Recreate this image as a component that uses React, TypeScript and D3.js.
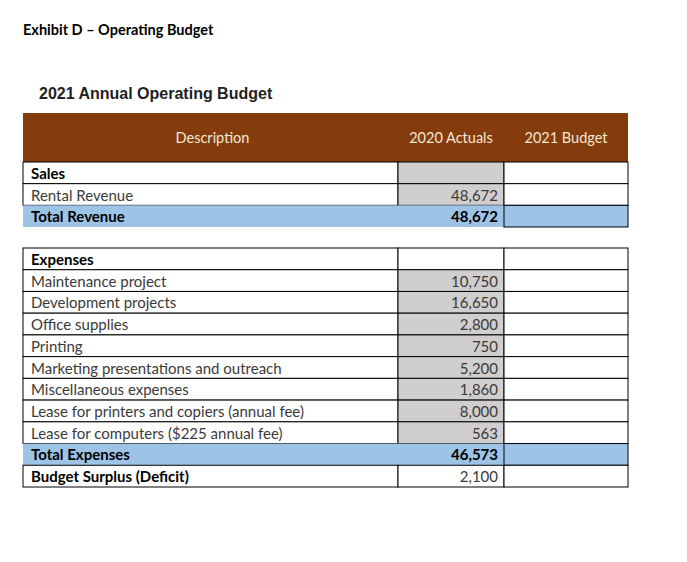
import React from "react";
import * as d3 from "d3";

const exhibitTitle = "Exhibit D – Operating Budget";
const tableTitle = "2021 Annual Operating Budget";
const headers = ["Description", "2020 Actuals", "2021 Budget"];

// Revenue block
const revenueLabels = ["Sales", "Rental Revenue", "Total Revenue"];
const revenueActuals: (number | null)[] = [null, 48672, 48672];
const revenueKinds = ["section", "item", "total"];

// Expense block
const expenseLabels = [
  "Expenses",
  "Maintenance project",
  "Development projects",
  "Office supplies",
  "Printing",
  "Marketing presentations and outreach",
  "Miscellaneous expenses",
  "Lease for printers and copiers (annual fee)",
  "Lease for computers ($225 annual fee)",
  "Total Expenses",
  "Budget Surplus (Deficit)",
];
const expenseActuals: (number | null)[] = [null, 10750, 16650, 2800, 750, 5200, 1860, 8000, 563, 46573, 2100];
const expenseKinds = ["section", "item", "item", "item", "item", "item", "item", "item", "item", "total", "result"];

const W = 687;
const H = 562;
const FONT = "Lato, 'Open Sans', sans-serif";
const BROWN = "#843c0c";
const GRAY = "#d0cece";
const BLUE = "#9dc3e6";
const FS = 15;

const colX = d3.scaleOrdinal<string, number>().domain(["left", "c1", "c2", "right"]).range([23, 398, 504, 628]);
const fmt = d3.format(",");

function Block({ labels, values, kinds, y0, y1, graySection }: { labels: string[]; values: (number | null)[]; kinds: string[]; y0: number; y1: number; graySection: boolean }) {
  const y = d3.scaleBand<number>().domain(d3.range(labels.length)).range([y0, y1]);
  const xl = colX("left"), x1 = colX("c1"), x2 = colX("c2"), xr = colX("right");
  const bh = y.bandwidth();
  return (
    <g>
      {labels.map((lab, i) => {
        const top = y(i)!;
        const k = kinds[i];
        const isTotal = k === "total";
        const bold = k !== "item";
        const v = values[i];
        const grayFill = k === "item" || (k === "section" && graySection);
        return (
          <g key={i}>
            {isTotal ? (
              <rect x={xl} y={top} width={xr - xl} height={bh} fill={BLUE} />
            ) : (
              <>
                <rect x={xl} y={top} width={x1 - xl} height={bh} fill="#fff" stroke="#000" strokeWidth={1} />
                <rect x={x1} y={top} width={x2 - x1} height={bh} fill={grayFill ? GRAY : "#fff"} stroke="#000" strokeWidth={1} />
                <rect x={x2} y={top} width={xr - x2} height={bh} fill="#fff" stroke="#000" strokeWidth={1} />
              </>
            )}
            {isTotal && (
              <rect x={x2} y={top} width={xr - x2} height={bh} fill="none" stroke="#000" strokeWidth={1} />
            )}
            <text
              x={xl + 8}
              y={top + bh / 2 + 6}
              fontFamily={FONT}
              fontSize={FS}
              fontWeight={bold ? 700 : 400}
              fill={bold ? "#000" : "#3a3a3a"}
            >
              {lab}
            </text>
            {v !== null && (
              <text
                x={x2 - 6}
                y={top + bh / 2 + 6}
                textAnchor="end"
                fontFamily={FONT}
                fontSize={FS}
                fontWeight={isTotal ? 700 : 400}
                fill={isTotal ? "#000" : "#3a3a3a"}
              >
                {fmt(v)}
              </text>
            )}
          </g>
        );
      })}
    </g>
  );
}

export default function App() {
  const xl = colX("left"), x1 = colX("c1"), x2 = colX("c2"), xr = colX("right");
  const headTop = 113, headBottom = 162;
  const centers = [(xl + x1) / 2 + 2, (x1 + x2) / 2, (x2 + xr) / 2];
  return (
    <svg width={W} height={H} style={{ position: "absolute", left: 0, top: 0, background: "#fff" }}>
      <rect width={W} height={H} fill="#fff" />
      <text x={23} y={35} fontFamily={FONT} fontSize={14.5} fontWeight={700} fill="#000">
        {exhibitTitle}
      </text>
      <text x={39} y={99} fontFamily="'Liberation Sans', Arial, sans-serif" fontSize={16} fontWeight={700} fill="#222">
        {tableTitle}
      </text>
      <rect x={xl} y={headTop} width={xr - xl} height={headBottom - headTop} fill={BROWN} />
      {headers.map((h, i) => (
        <text key={h} x={centers[i]} y={143} textAnchor="middle" fontFamily={FONT} fontSize={14.5} fill="#f6e7d6">
          {h}
        </text>
      ))}
      <Block labels={revenueLabels} values={revenueActuals} kinds={revenueKinds} y0={162} y1={227} graySection={true} />
      <Block labels={expenseLabels} values={expenseActuals} kinds={expenseKinds} y0={248} y1={487} graySection={false} />
    </svg>
  );
}
